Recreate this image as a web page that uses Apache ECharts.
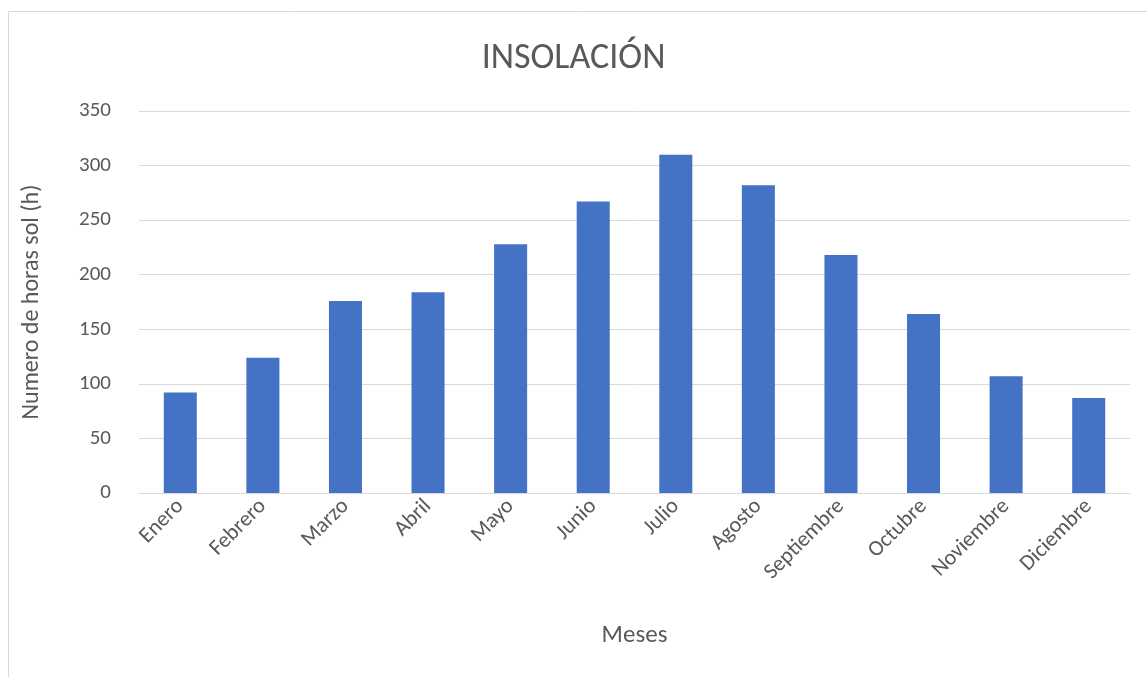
<!DOCTYPE html>
<html>
<head>
<meta charset="utf-8">
<title>Insolación</title>
<script src="https://cdn.jsdelivr.net/npm/echarts@6/dist/echarts.min.js"></script>
<style>
  html, body { margin: 0; padding: 0; background: #fff; }
  #chart { width: 1147px; height: 677px; }
</style>
</head>
<body>
<div id="chart"></div>
<script>
// meses y horas de sol
const meses = ['Enero', 'Febrero', 'Marzo', 'Abril', 'Mayo', 'Junio', 'Julio',
  'Agosto', 'Septiembre', 'Octubre', 'Noviembre', 'Diciembre'];
const horasSol = [92, 124, 176, 184, 228, 267, 310, 282, 218, 164, 107, 87];

const fuente = 'Carlito, "Liberation Sans Narrow", "DejaVu Sans Condensed", "Open Sans", sans-serif';
const gris = '#595959';

const chart = echarts.init(document.getElementById('chart'));

const option = {
  animation: false,
  backgroundColor: '#fff',
  textStyle: { fontFamily: fuente },
  graphic: [{
    type: 'rect',
    shape: { x: 8.5, y: 11.5, width: 1160, height: 700 },
    style: { fill: 'none', stroke: '#d9d9d9', lineWidth: 1 },
    silent: true
  }],
  title: {
    text: 'INSOLACIÓN',
    left: 'center',
    top: 36,
    textStyle: { fontFamily: fuente, fontSize: 36, fontWeight: 'normal', color: gris }
  },
  grid: { left: 139, right: 17, top: 111, bottom: 184 },
  xAxis: {
    type: 'category',
    data: meses,
    name: 'Meses',
    nameLocation: 'middle',
    nameGap: 130,
    nameTextStyle: { fontFamily: fuente, fontSize: 25, color: gris },
    axisLine: { lineStyle: { color: '#d9d9d9', width: 1 } },
    axisTick: { show: false },
    axisLabel: { rotate: 45, margin: 10, fontFamily: fuente, fontSize: 22, color: gris, interval: 0 }
  },
  yAxis: {
    type: 'value',
    min: 0,
    max: 350,
    interval: 50,
    name: 'Numero de horas sol (h)',
    nameLocation: 'middle',
    nameGap: 95,
    nameTextStyle: { fontFamily: fuente, fontSize: 24, color: gris },
    axisLine: { show: false },
    axisTick: { show: false },
    axisLabel: { margin: 28, fontFamily: fuente, fontSize: 21, color: gris },
    splitLine: { lineStyle: { color: '#d9d9d9', width: 1 } }
  },
  series: [{
    type: 'bar',
    data: horasSol,
    barWidth: '40%',
    itemStyle: { color: '#4472c4' }
  }]
};

chart.setOption(option);
</script>
</body>
</html>
